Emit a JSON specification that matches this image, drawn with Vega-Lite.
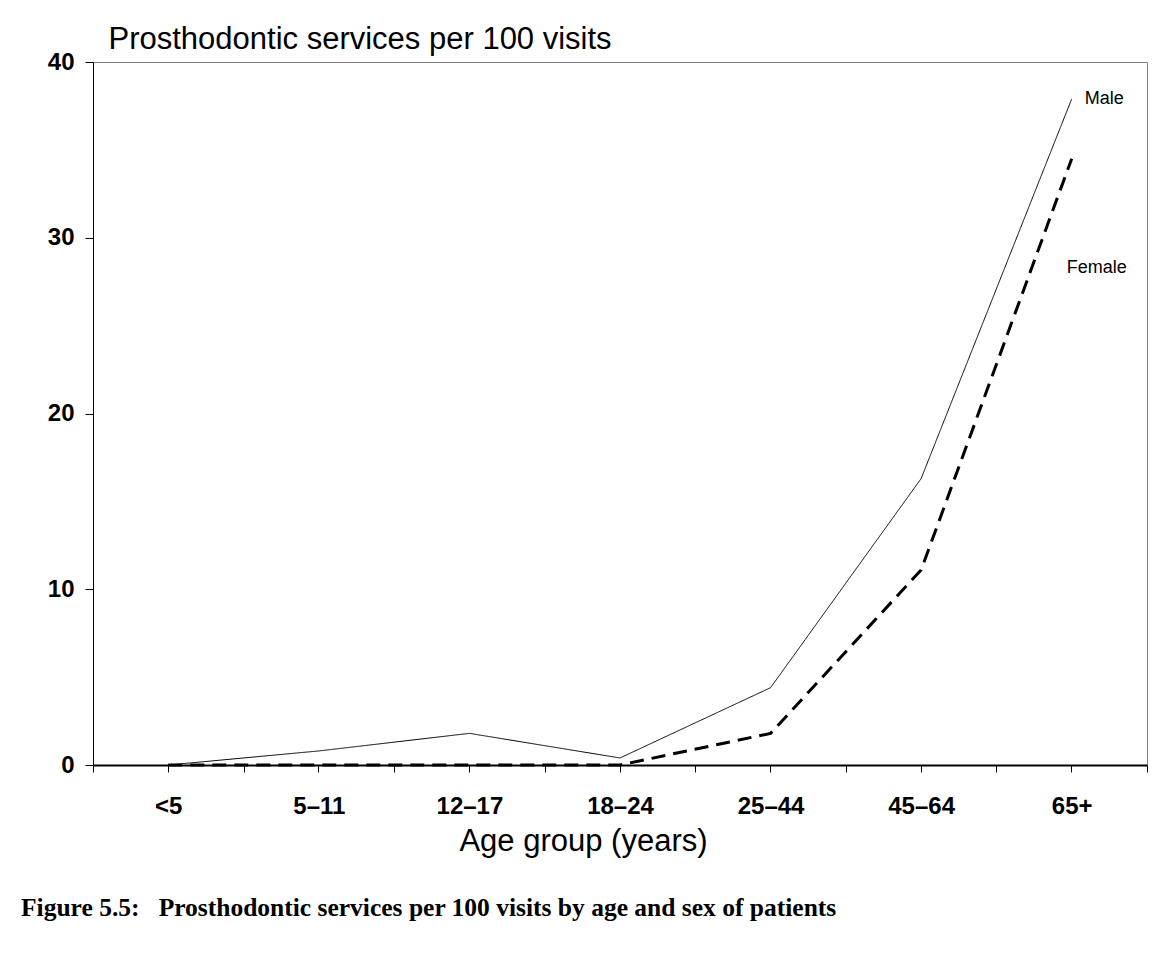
{
  "$schema": "https://vega.github.io/schema/vega-lite/v6.json",
  "width": 1054,
  "height": 703,
  "autosize": "none",
  "padding": {"left": 93, "top": 62, "right": 18, "bottom": 193},
  "background": "white",
  "config": {
    "view": {"stroke": "#808080", "strokeWidth": 1},
    "font": "Liberation Sans"
  },
  "title": {
    "text": "Figure 5.5:\u00a0\u00a0\u00a0Prosthodontic services per 100 visits by age and sex of patients",
    "orient": "bottom",
    "anchor": "start",
    "frame": "group",
    "dx": -72,
    "offset": 60,
    "baseline": "alphabetic",
    "font": "Liberation Serif",
    "fontWeight": "bold",
    "fontSize": 25.5,
    "color": "black"
  },
  "data": {
    "values": [
      {"age": "<5", "sex": "Male", "value": 0},
      {"age": "5–11", "sex": "Male", "value": 0.8},
      {"age": "12–17", "sex": "Male", "value": 1.8},
      {"age": "18–24", "sex": "Male", "value": 0.4},
      {"age": "25–44", "sex": "Male", "value": 4.4},
      {"age": "45–64", "sex": "Male", "value": 16.3},
      {"age": "65+", "sex": "Male", "value": 37.9},
      {"age": "<5", "sex": "Female", "value": 0},
      {"age": "5–11", "sex": "Female", "value": 0},
      {"age": "12–17", "sex": "Female", "value": 0},
      {"age": "18–24", "sex": "Female", "value": 0},
      {"age": "25–44", "sex": "Female", "value": 1.8},
      {"age": "45–64", "sex": "Female", "value": 11.1},
      {"age": "65+", "sex": "Female", "value": 34.5}
    ]
  },
  "layer": [
    {
      "mark": {"type": "line", "color": "black", "clip": false},
      "encoding": {
        "x": {
          "field": "age",
          "type": "ordinal",
          "sort": ["<5", "5–11", "12–17", "18–24", "25–44", "45–64", "65+"],
          "bandPosition": 0.5,
          "scale": {"type": "band", "paddingInner": 0, "paddingOuter": 0},
          "axis": {
            "orient": "bottom",
            "title": "Age group (years)",
            "titleFont": "Liberation Sans",
            "titleFontSize": 31,
            "titleFontWeight": "normal",
            "titleColor": "black",
            "titleX": 490,
            "titleY": 85,
            "titleAlign": "center",
            "titleBaseline": "alphabetic",
            "tickBand": "extent",
            "tickSize": 7,
            "tickColor": "black",
            "domainColor": "black",
            "domainWidth": 2,
            "labelFont": "Liberation Sans",
            "labelFontSize": 24,
            "labelFontWeight": "bold",
            "labelColor": "black",
            "labelPadding": 22,
            "labelAngle": 0,
            "labelBaseline": "top",
            "grid": false,
            "encode": {
              "labels": {
                "update": {
                  "dy": {"signal": "datum.value === '<5' ? -4 : (datum.value === '65+' ? -7 : 0)"}
                }
              }
            }
          }
        },
        "y": {
          "field": "value",
          "type": "quantitative",
          "scale": {"domain": [0, 40]},
          "axis": {
            "title": "Prosthodontic services per 100 visits",
            "titleAngle": 0,
            "titleAlign": "left",
            "titleBaseline": "alphabetic",
            "titleX": 15,
            "titleY": -14,
            "titleFont": "Liberation Sans",
            "titleFontSize": 31,
            "titleFontWeight": "normal",
            "titleColor": "black",
            "values": [0, 10, 20, 30, 40],
            "grid": false,
            "domainColor": "black",
            "tickColor": "black",
            "tickSize": 8,
            "labelFont": "Liberation Sans",
            "labelFontSize": 24,
            "labelFontWeight": "bold",
            "labelColor": "black",
            "labelPadding": 11
          }
        },
        "strokeDash": {
          "field": "sex",
          "type": "nominal",
          "scale": {"domain": ["Male", "Female"], "range": [[1, 0], [14, 8]]},
          "legend": null
        },
        "strokeWidth": {
          "field": "sex",
          "type": "nominal",
          "scale": {"domain": ["Male", "Female"], "range": [1, 3]},
          "legend": null
        }
      }
    },
    {
      "transform": [{"filter": "datum.sex === 'Male' && datum.age === '65+'"}],
      "mark": {"type": "text", "align": "left", "baseline": "middle", "dx": 13, "fontSize": 18, "font": "Liberation Sans", "color": "black"},
      "encoding": {
        "x": {
          "field": "age",
          "type": "ordinal",
          "sort": ["<5", "5–11", "12–17", "18–24", "25–44", "45–64", "65+"],
          "bandPosition": 0.5,
          "axis": {
            "orient": "bottom",
            "labels": false,
            "domain": false,
            "title": null,
            "ticks": true,
            "tickSize": 7,
            "tickColor": "black",
            "grid": false
          }
        },
        "y": {"field": "value", "type": "quantitative"},
        "text": {"field": "sex"}
      }
    },
    {
      "transform": [{"filter": "datum.sex === 'Female' && datum.age === '65+'"}],
      "mark": {"type": "text", "align": "left", "baseline": "middle", "dx": -5, "fontSize": 18, "font": "Liberation Sans", "color": "black"},
      "encoding": {
        "x": {
          "field": "age",
          "type": "ordinal",
          "sort": ["<5", "5–11", "12–17", "18–24", "25–44", "45–64", "65+"],
          "bandPosition": 0.5,
          "axis": null
        },
        "y": {"datum": 28.3},
        "text": {"field": "sex"}
      }
    }
  ],
  "resolve": {"axis": {"x": "independent"}}
}
